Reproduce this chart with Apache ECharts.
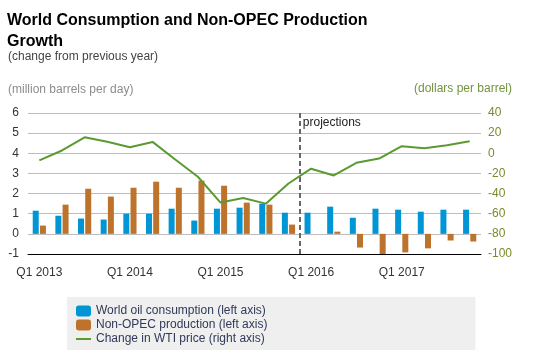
<!DOCTYPE html>
<html>
<head>
<meta charset="utf-8">
<script src="https://cdn.jsdelivr.net/npm/echarts@6/dist/echarts.min.js"></script>
<style>
html,body{margin:0;padding:0;background:#fff;}
#chart{width:535px;height:355px;}
</style>
</head>
<body>
<div id="chart"></div>
<script>
var categories = ['Q1 2013','Q2 2013','Q3 2013','Q4 2013','Q1 2014','Q2 2014','Q3 2014','Q4 2014','Q1 2015','Q2 2015','Q3 2015','Q4 2015','Q1 2016','Q2 2016','Q3 2016','Q4 2016','Q1 2017','Q2 2017','Q3 2017','Q4 2017'];
var worldConsumption = [1.15,0.9,0.76,0.71,1.0,1.0,1.25,0.66,1.25,1.3,1.5,1.05,1.05,1.35,0.8,1.25,1.2,1.1,1.2,1.2];
var nonOpecProduction = [0.41,1.45,2.24,1.85,2.29,2.59,2.29,2.64,2.39,1.55,1.45,0.46,0,0.11,-0.68,-1.0,-0.92,-0.72,-0.33,-0.38];
var wtiChange = [-7,2.8,15.9,11.4,6,11.3,-6.2,-23.3,-48.9,-44.4,-50,-30,-15.3,-22,-9.4,-5.2,7,5,8,12];
var projectionStart = 11.5; // boundary between Q4 2015 and Q1 2016 (category index scale)

var FONT = "'Liberation Sans', Arial, sans-serif";
var chart = echarts.init(document.getElementById('chart'));
chart.setOption({
  animation: false,
  textStyle: {fontFamily: FONT},
  title: [
    {text: 'World Consumption and Non-OPEC Production\nGrowth', left: 7, top: 10, padding: 0,
     textStyle: {fontFamily: FONT, fontSize: 16, fontWeight: 'bold', color: '#000', lineHeight: 21}},
    {text: '(change from previous year)', left: 8, top: 51, padding: 0,
     textStyle: {fontFamily: FONT, fontSize: 12, fontWeight: 'normal', color: '#444'}},
    {text: '(million barrels per day)', left: 8, top: 84, padding: 0,
     textStyle: {fontFamily: FONT, fontSize: 12, fontWeight: 'normal', color: '#8c8c8c'}},
    {text: '(dollars per barrel)', right: 23, top: 83, padding: 0,
     textStyle: {fontFamily: FONT, fontSize: 12, fontWeight: 'normal', color: '#73933f'}}
  ],
  legend: {
    orient: 'vertical', left: 67, top: 297,
    padding: [8, 208, 5, 8],
    backgroundColor: '#efefef',
    itemWidth: 15, itemHeight: 11, itemGap: 2,
    textStyle: {fontFamily: FONT, fontSize: 12, color: '#303a58'},
    data: [
      {name: 'World oil consumption (left axis)', icon: 'roundRect'},
      {name: 'Non-OPEC production (left axis)', icon: 'roundRect'},
      {name: 'Change in WTI price (right axis)', itemStyle: {opacity: 0}}
    ]
  },
  grid: {left: 28, right: 54, top: 113, bottom: 101, containLabel: false},
  xAxis: [{
    type: 'category', data: categories, boundaryGap: true,
    axisLine: {onZero: false, lineStyle: {color: '#000', width: 1}},
    axisTick: {alignWithLabel: true, interval: 3, length: 5, lineStyle: {color: '#000'}},
    axisLabel: {interval: 3, margin: 13, fontSize: 12, color: '#333', fontFamily: FONT},
    splitLine: {show: false}
  }, {
    type: 'value', min: -0.5, max: 19.5, show: false
  }],
  yAxis: [{
    type: 'value', min: -1, max: 6, interval: 1,
    axisLine: {show: false}, axisTick: {show: false},
    axisLabel: {margin: 9, fontSize: 12, color: '#333', fontFamily: FONT},
    splitLine: {lineStyle: {color: '#bdbdbd', width: 1}}
  }, {
    type: 'value', min: -100, max: 40, interval: 20, position: 'right',
    axisLine: {show: false}, axisTick: {show: false},
    axisLabel: {margin: 7, fontSize: 12, color: '#7b8a2c', fontFamily: FONT},
    splitLine: {show: false}
  }],
  series: [{
    name: 'World oil consumption (left axis)', type: 'bar', data: worldConsumption,
    barWidth: 6, barGap: '20%', itemStyle: {color: '#0096d6'}
  }, {
    name: 'Non-OPEC production (left axis)', type: 'bar', data: nonOpecProduction,
    barWidth: 6, barGap: '20%', itemStyle: {color: '#bd732b'}
  }, {
    name: 'Change in WTI price (right axis)', type: 'line', yAxisIndex: 1, data: wtiChange,
    symbol: 'none', lineStyle: {color: '#5b9a31', width: 2}, itemStyle: {color: '#5b9a31'}, z: 5
  }, {
    name: 'projections', type: 'line', xAxisIndex: 1, yAxisIndex: 0, data: [],
    markLine: {
      silent: true, symbol: ['none', 'none'],
      lineStyle: {color: '#666', width: 2, type: [5, 3]},
      label: {show: true, position: 'end', formatter: 'projections', align: 'left',
              verticalAlign: 'top', offset: [3, 9], fontSize: 12, color: '#222', fontFamily: FONT},
      data: [{xAxis: projectionStart}]
    }
  }]
});
</script>
</body>
</html>
